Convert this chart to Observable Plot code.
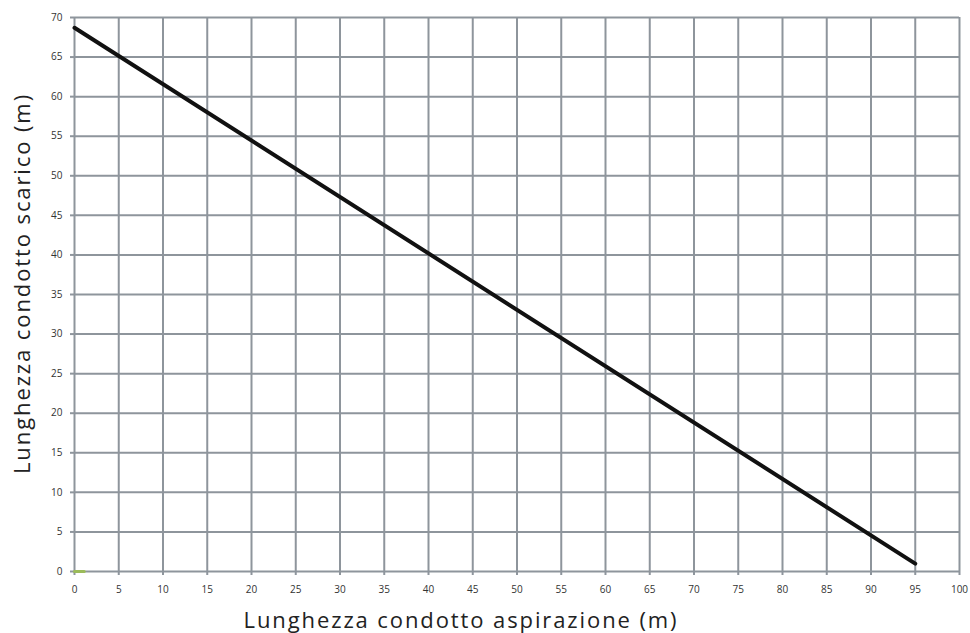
<!DOCTYPE html>
<html>
<head>
<meta charset="utf-8">
<script src="https://cdn.jsdelivr.net/npm/d3@7"></script>
<script src="https://cdn.jsdelivr.net/npm/@observablehq/plot@0.6"></script>
<style>
  html, body { margin: 0; padding: 0; background: #fff; }
  #chart { width: 970px; height: 633px; }
  .title-text text { letter-spacing: 1.9px; }
</style>
</head>
<body>
<div id="chart"></div>
<script>
const aspirazione = [0, 95];
const scarico = [68.7, 1];
const markerX = [0, 1.1];
const markerY = [0, 0];
const xTicks = d3.range(0, 101, 5);
const yTicks = d3.range(0, 71, 5);
const xTitle = "Lunghezza condotto aspirazione (m)";
const yTitle = "Lunghezza condotto scarico (m)";

const lineData = aspirazione.map((x, i) => ({x, y: scarico[i]}));
const markerData = markerX.map((x, i) => ({x, y: markerY[i]}));
const gridColor = "#8e959c";

const chart = Plot.plot({
  width: 970,
  height: 633,
  marginLeft: 74,
  marginRight: 11,
  marginTop: 17,
  marginBottom: 62,
  style: {fontFamily: "'Open Sans', sans-serif", background: "#fff"},
  x: {domain: [0, 100], ticks: xTicks},
  y: {domain: [0, 70], ticks: yTicks},
  marks: [
    Plot.ruleX(xTicks, {stroke: gridColor, strokeWidth: 2, y1: 0, y2: 70}),
    Plot.ruleY(yTicks, {stroke: gridColor, strokeWidth: 2, x1: 0, x2: 100}),
    Plot.axisX({ticks: xTicks, tickSize: 4, tickPadding: 10, stroke: gridColor, strokeWidth: 2, fontSize: 10, color: "#333", label: null, tickFormat: d => String(d)}),
    Plot.axisY({ticks: yTicks, tickSize: 4, tickPadding: 8, stroke: gridColor, strokeWidth: 2, fontSize: 10, color: "#333", label: null, tickFormat: d => String(d)}),
    Plot.line(markerData, {x: "x", y: "y", stroke: "#9bbb59", strokeWidth: 3}),
    Plot.line(lineData, {x: "x", y: "y", stroke: "#111", strokeWidth: 4}),
    Plot.text([xTitle], {frameAnchor: "bottom", text: d => d, dx: -56, dy: 56, fontSize: 22, fill: "#222", className: "title-text"}),
    Plot.text([yTitle], {frameAnchor: "left", text: d => d, dx: -52, dy: -11, rotate: -90, textAnchor: "middle", fontSize: 22, fill: "#222", className: "title-text"})
  ]
});
document.getElementById("chart").appendChild(chart);
</script>
</body>
</html>
